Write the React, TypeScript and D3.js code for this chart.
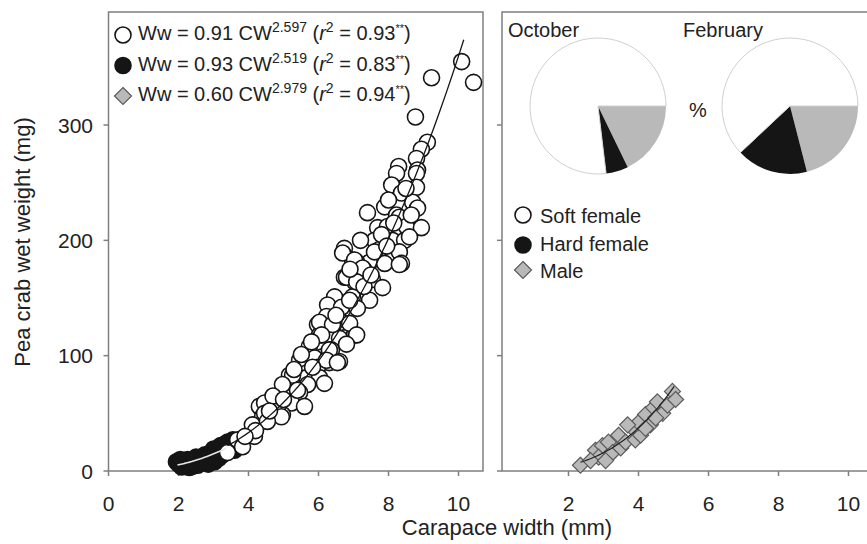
import React from "react";
import * as d3 from "d3";

// Soft female [carapace width mm, wet weight mg]
const softFemale: [number, number][] = [
  [10.09, 355], [10.43, 337], [9.23, 341], [8.77, 307], [9.11, 285], [8.94, 279],
  [8.8, 271], [8.29, 264], [8.23, 258], [8.83, 261], [8.8, 258], [8.09, 248],
  [8.37, 241], [8.8, 246], [8.69, 233], [7.4, 224], [7.89, 229], [8.23, 222],
  [8.83, 228], [8.31, 220], [7.69, 211], [7.97, 212], [8.51, 212], [8.94, 211],
  [7.6, 200], [8.11, 200], [8.46, 200], [6.74, 193], [7.74, 192], [8.31, 190],
  [6.97, 183], [7.46, 181], [7.89, 180], [8.37, 180], [8.6, 203], [7.09, 181],
  [7.31, 174], [8.31, 179], [6.74, 168], [7.03, 164], [7.54, 166], [7.83, 159],
  [7.46, 148], [6.97, 151], [6.46, 151], [6.26, 144], [6.66, 142], [7.11, 141],
  [6.23, 134], [6.66, 129], [5.97, 127], [7.03, 118], [6.03, 118], [6.6, 115],
  [5.74, 108], [6.37, 105], [6.11, 99], [6.6, 95], [5.46, 96], [5.89, 90],
  [6.31, 94], [5.17, 83], [5.66, 85], [6.69, 189], [7.03, 183], [7.26, 176],
  [6.8, 168], [7.09, 164], [6.89, 148], [6.03, 129], [6.4, 127], [6.89, 128],
  [6.09, 118], [7.09, 118], [6.31, 105], [5.89, 98], [5.97, 90], [5.66, 81],
  [6.03, 81], [5.09, 73], [5.69, 75], [6.17, 76], [4.89, 64], [5.46, 68],
  [4.31, 56], [4.74, 56], [5.23, 59], [5.6, 56], [4.4, 47], [4.97, 49],
  [5.51, 101], [6.23, 96], [6.54, 94], [5.83, 90], [5.26, 83], [5.4, 70],
  [4.97, 75], [4.46, 59], [4.83, 56], [4.46, 50], [4.94, 47], [4.11, 40],
  [4.54, 43], [4.17, 30], [3.69, 27], [3.4, 16], [3.83, 21], [7.2, 200],
  [7.6, 190], [8.0, 235], [8.5, 245], [7.8, 205], [7.3, 160], [6.5, 135],
  [5.8, 112], [6.8, 110], [5.3, 88], [4.7, 65], [5.0, 62], [4.2, 35],
  [3.9, 30], [4.6, 52], [7.5, 170], [7.95, 195], [8.15, 215], [8.65, 222],
  [6.9, 175],
];

// Hard female
const hardFemale: [number, number][] = [
  [1.94, 8], [2.09, 3.5], [2.26, 10], [2.46, 7], [2.6, 11], [2.8, 12],
  [2.97, 16], [3.17, 18], [3.37, 21], [3.54, 24], [3.03, 8], [2.31, 3],
  [3.26, 14], [3.6, 18], [2.0, 6], [2.15, 9], [2.4, 4], [2.7, 8],
  [2.9, 10], [3.1, 15], [3.3, 23], [2.55, 5], [2.2, 6], [3.45, 19],
  [2.05, 10], [2.35, 8], [2.5, 12], [2.65, 9], [2.75, 14], [2.85, 6],
  [3.0, 19], [3.2, 22], [3.4, 25], [3.5, 20], [3.15, 11], [2.95, 13],
  [3.55, 27],
];

// Male
const male: [number, number][] = [
  [2.34, 5], [2.77, 18], [2.97, 22], [3.14, 25], [2.86, 12], [3.26, 16],
  [3.49, 20], [3.43, 31], [3.63, 25], [3.83, 37], [3.91, 27], [4.06, 31],
  [4.0, 42], [4.2, 49], [4.34, 40], [4.43, 55], [4.54, 60], [4.69, 50],
  [4.83, 57], [4.97, 69], [5.06, 62], [3.69, 40], [4.2, 37], [2.63, 9],
  [3.06, 9], [4.49, 46],
];

// Fit coefficients (a, b) for Ww = a * CW^b, and CW range of each line
const fitA = [0.91, 0.93, 0.6];
const fitB = [2.597, 2.519, 2.979];
const fitR2 = ["0.93", "0.83", "0.94"];
const fitRange: [number, number][] = [[3.4, 10.15], [1.97, 3.35], [2.34, 5.02]];

// Pie percentages (Soft female, Hard female, Male)
const categories = ["Soft female", "Hard female", "Male"];
const octoberPct = [76.9, 5.3, 17.8];
const februaryPct = [62, 17, 21];
const months = ["October", "February"];

const xTicksLeft = [0, 2, 4, 6, 8, 10];
const xTicksRight = [2, 4, 6, 8, 10];
const yTicks = [0, 100, 200, 300];

const FONT = "'Liberation Sans', Arial, sans-serif";
const AXIS = "#7f7f7f";
const GREY = "#b9b9b9";

const Circle = ({ cx, cy, fill }: { cx: number; cy: number; fill: string }) => (
  <circle cx={cx} cy={cy} r={8} fill={fill} stroke="#151515" strokeWidth={1.6} />
);

const Diamond = ({ cx, cy, s = 8 }: { cx: number; cy: number; s?: number }) => (
  <path
    d={`M${cx},${cy - s}L${cx + s},${cy}L${cx},${cy + s}L${cx - s},${cy}Z`}
    fill={GREY}
    stroke="#5a5a5a"
    strokeWidth={1.2}
  />
);

export default function App() {
  const top = 12;
  const bottom = 471;
  const y = d3.scaleLinear().domain([0, 398]).range([bottom, top]);
  const xL = d3.scaleLinear().domain([0, 10.7]).range([108.5, 483]);
  const xR = d3.scaleLinear().domain([0.1, 10.8]).range([502, 876.5]);

  const fitLine = (i: number, xs: d3.ScaleLinear<number, number>) => {
    const [lo, hi] = fitRange[i];
    const pts = d3.range(0, 41).map((k) => lo + ((hi - lo) * k) / 40);
    return d3
      .line<number>()
      .x((c) => xs(c))
      .y((c) => y(fitA[i] * Math.pow(c, fitB[i])))(pts) as string;
  };

  const pieGen = d3
    .pie<number>()
    .sort(null)
    .value((d) => d)
    .startAngle(Math.PI / 2)
    .endAngle(Math.PI / 2 + 2 * Math.PI);
  const arc = d3.arc<d3.PieArcDatum<number>>().innerRadius(0).outerRadius(68);
  const sliceOrder = [2, 1, 0]; // male, hard, soft clockwise from 3 o'clock
  const sliceFill = ["#ffffff", "#151515", GREY];
  const pieCenters = [598, 790];

  const legendRows = [0, 1, 2];

  return (
    <svg
      width={867}
      height={544}
      style={{ position: "absolute", left: 0, top: 0, background: "#fff" }}
      fontFamily={FONT}
    >
      {/* left panel frame */}
      <rect x={108.5} y={top} width={374.5} height={bottom - top} fill="none" stroke={AXIS} strokeWidth={1.5} />
      {/* right panel frame */}
      <rect x={502} y={top} width={374.5} height={bottom - top} fill="none" stroke={AXIS} strokeWidth={1.5} />

      {/* y ticks */}
      {yTicks.map((t) => (
        <g key={"y" + t}>
          <line x1={103.5} x2={108.5} y1={y(t)} y2={y(t)} stroke={AXIS} strokeWidth={1.5} />
          <line x1={497} x2={502} y1={y(t)} y2={y(t)} stroke={AXIS} strokeWidth={1.5} />
          <text x={93} y={y(t) + 7.5} fontSize={21} textAnchor="end" fill="#222">
            {t}
          </text>
        </g>
      ))}

      {/* x ticks */}
      {xTicksLeft.map((t) => (
        <g key={"xl" + t}>
          <line x1={xL(t)} x2={xL(t)} y1={bottom} y2={bottom + 5} stroke={AXIS} strokeWidth={1.5} />
          <text x={xL(t)} y={511} fontSize={21} textAnchor="middle" fill="#222">
            {t}
          </text>
        </g>
      ))}
      {xTicksRight.map((t) => (
        <g key={"xr" + t}>
          <line x1={xR(t)} x2={xR(t)} y1={bottom} y2={bottom + 5} stroke={AXIS} strokeWidth={1.5} />
          <text x={xR(t)} y={511} fontSize={21} textAnchor="middle" fill="#222">
            {t}
          </text>
        </g>
      ))}

      {/* axis titles */}
      <text transform="translate(30,242) rotate(-90)" fontSize={22} textAnchor="middle" fill="#222">
        Pea crab wet weight (mg)
      </text>
      <text x={507} y={535} fontSize={22} textAnchor="middle" fill="#222">
        Carapace width (mm)
      </text>

      {/* left panel data */}
      <g>
        {hardFemale.map(([c, w], i) => (
          <Circle key={"h" + i} cx={xL(c)} cy={y(w)} fill="#151515" />
        ))}
        {softFemale.map(([c, w], i) => (
          <Circle key={"s" + i} cx={xL(c)} cy={y(w)} fill="#ffffff" />
        ))}
        <path d={fitLine(0, xL)} fill="none" stroke="#151515" strokeWidth={1.3} />
        <path d={fitLine(1, xL)} fill="none" stroke="#e6e6e6" strokeWidth={1.6} />
      </g>

      {/* right panel data */}
      <g>
        {male.map(([c, w], i) => (
          <Diamond key={"m" + i} cx={xR(c)} cy={y(w)} />
        ))}
        <path d={fitLine(2, xR)} fill="none" stroke="#222" strokeWidth={1.2} />
      </g>

      {/* equation legend */}
      {legendRows.map((i) => {
        const cy = 35 + i * 30.5;
        const by = 40 + i * 30.5;
        return (
          <g key={"eq" + i}>
            {i === 0 && <Circle cx={123} cy={cy} fill="#ffffff" />}
            {i === 1 && <Circle cx={123} cy={cy} fill="#151515" />}
            {i === 2 && <Diamond cx={123} cy={cy} s={8.5} />}
            <text x={138} y={by} fontSize={20} fill="#222">
              {`Ww = ${fitA[i].toFixed(2)} CW`}
              <tspan dy={-8} fontSize={14}>{fitB[i].toFixed(3)}</tspan>
              <tspan dy={8}> (</tspan>
              <tspan fontStyle="italic">r</tspan>
              <tspan dy={-8} fontSize={14}>2</tspan>
              <tspan dy={8}>{` = ${fitR2[i]}`}</tspan>
              <tspan dy={-8} fontSize={11}>**</tspan>
              <tspan dy={8}>)</tspan>
            </text>
          </g>
        );
      })}

      {/* pies */}
      {[octoberPct, februaryPct].map((pct, m) => {
        const arcs = pieGen(sliceOrder.map((k) => pct[k]));
        return (
          <g key={"pie" + m} transform={`translate(${pieCenters[m]},106)`}>
            {arcs.map((a, j) => (
              <path
                key={j}
                d={arc(a) as string}
                fill={sliceFill[sliceOrder[j]]}
                stroke={sliceOrder[j] === 0 ? "#d0d0d0" : "none"}
                strokeWidth={1}
              />
            ))}
          </g>
        );
      })}
      <text x={508} y={37} fontSize={20} fill="#222">{months[0]}</text>
      <text x={683} y={37} fontSize={20} fill="#222">{months[1]}</text>
      <text x={689} y={117} fontSize={20} fill="#222">%</text>

      {/* category legend */}
      <Circle cx={523} cy={215} fill="#ffffff" />
      <text x={540} y={223} fontSize={20} fill="#222">{categories[0]}</text>
      <Circle cx={523} cy={245} fill="#151515" />
      <text x={540} y={251} fontSize={20} fill="#222">{categories[1]}</text>
      <Diamond cx={523} cy={270} s={8.5} />
      <text x={540} y={278} fontSize={20} fill="#222">{categories[2]}</text>
    </svg>
  );
}
